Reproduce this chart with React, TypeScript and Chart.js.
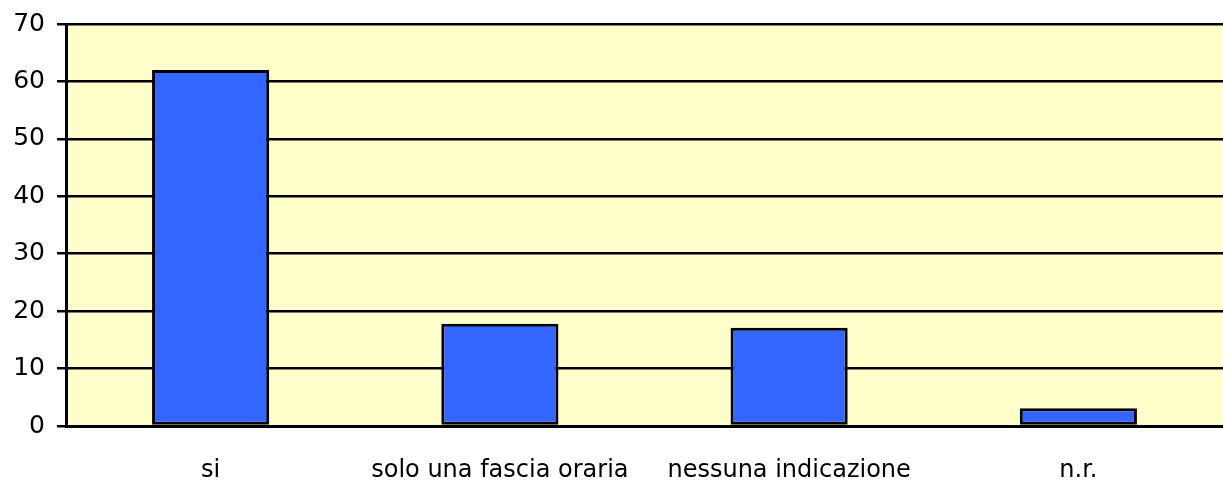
import React, { useEffect, useRef } from "react";
import { Chart, registerables } from "chart.js";

Chart.register(...registerables);

const categories = ["si", "solo una fascia oraria", "nessuna indicazione", "n.r."];
const values = [62, 17.8, 17.1, 3.1];
const yTicks = [0, 10, 20, 30, 40, 50, 60, 70];

const plotBackground = {
  id: "plotBackground",
  beforeDraw(chart: any) {
    const { ctx, chartArea } = chart;
    ctx.save();
    ctx.fillStyle = "#FFFFCC";
    ctx.fillRect(chartArea.left, chartArea.top, chartArea.right - chartArea.left, chartArea.bottom - chartArea.top);
    ctx.restore();
  },
};

export default function App() {
  const canvasRef = useRef<HTMLCanvasElement | null>(null);

  useEffect(() => {
    document.body.style.margin = "0";
    const canvas = canvasRef.current;
    if (!canvas) return;
    const family = "'DejaVu Sans', sans-serif";
    const chart = new Chart(canvas, {
      type: "bar",
      data: {
        labels: categories,
        datasets: [
          {
            data: values,
            backgroundColor: "#3366FF",
            borderColor: "#000000",
            borderWidth: 3,
            borderSkipped: false,
            barPercentage: 1,
            categoryPercentage: 0.405,
          },
        ],
      },
      options: {
        responsive: false,
        animation: false,
        events: [],
        layout: { padding: { top: 24, left: 0, right: 0, bottom: 0 } },
        plugins: { legend: { display: false }, tooltip: { enabled: false } },
        scales: {
          x: {
            grid: { display: false, drawTicks: false },
            border: { display: true, color: "#000000", width: 3 },
            ticks: { color: "#000000", font: { family, size: 24 }, padding: 30, maxRotation: 0, autoSkip: false },
            afterFit(scale: any) {
              scale.height = 55;
              scale.paddingLeft = 0;
              scale.paddingRight = 0;
            },
          },
          y: {
            min: 0,
            max: 70,
            afterBuildTicks(scale: any) {
              scale.ticks = yTicks.map((v) => ({ value: v }));
            },
            grid: { color: "#000000", lineWidth: 2.5, tickLength: 9, drawOnChartArea: true },
            border: { display: true, color: "#000000", width: 3 },
            ticks: { color: "#000000", font: { family, size: 25 }, padding: 12 },
            afterFit(scale: any) {
              scale.width = 66;
              scale.paddingTop = 0;
              scale.paddingBottom = 0;
            },
          },
        },
      },
      plugins: [plotBackground],
    });
    return () => chart.destroy();
  }, []);

  return <canvas ref={canvasRef} width={1223} height={481} style={{ display: "block" }} />;
}
